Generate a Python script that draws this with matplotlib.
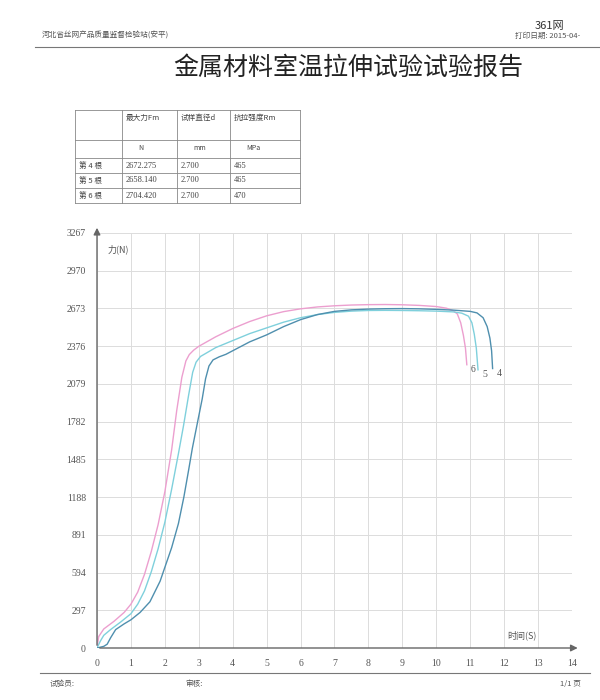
import matplotlib
matplotlib.use("Agg")
import matplotlib.pyplot as plt
from matplotlib.lines import Line2D

plt.rcParams['font.family'] = ['Noto Sans CJK SC', 'DejaVu Sans']

# ---------------- data ----------------
title = "金属材料室温拉伸试验试验报告"
header_left = "河北省丝网产品质量监督检验站(安平)"
header_right = "打印日期: 2015-04-"

table_cols = ["", "最大力Fm", "试样直径d", "抗拉强度Rm"]
table_units = ["", "N", "mm", "MPa"]
table_rows = ["第 4 根", "第 5 根", "第 6 根"]
table_fm = ["2672.275", "2658.140", "2704.420"]
table_d = ["2.700", "2.700", "2.700"]
table_rm = ["465", "465", "470"]

y_ticks = [0, 297, 594, 891, 1188, 1485, 1782, 2079, 2376, 2673, 2970, 3267]
x_ticks = list(range(0, 15))

# specimen 6 (pink)
t6 = [0, 0.05, 0.2, 0.5, 0.8, 1.0, 1.2, 1.4, 1.6, 1.8, 2.0, 2.2, 2.35, 2.5, 2.62, 2.72, 2.85,
      3.0, 3.5, 4.0, 4.5, 5.0, 5.5, 6.0, 6.5, 7.0, 7.5, 8.0, 8.5, 9.0, 9.5, 10.0, 10.3,
      10.5, 10.62, 10.72, 10.8, 10.86, 10.9]
f6 = [0, 90, 150, 210, 280, 345, 440, 580, 760, 970, 1230, 1560, 1870, 2130, 2260, 2310, 2345,
      2375, 2450, 2515, 2570, 2615, 2648, 2670, 2685, 2694, 2700, 2703, 2704, 2702, 2697, 2688, 2675,
      2655, 2630, 2560, 2460, 2360, 2230]
# specimen 5 (light cyan)
t5 = [0, 0.1, 0.2, 0.4, 0.7, 1.0, 1.2, 1.4, 1.6, 1.8, 2.0, 2.2, 2.4, 2.55, 2.7, 2.82, 2.92,
      3.05, 3.5, 4.0, 4.5, 5.0, 5.5, 6.0, 6.5, 7.0, 7.5, 8.0, 8.5, 9.0, 9.5, 10.0, 10.5,
      10.75, 10.95, 11.05, 11.12, 11.18, 11.23]
f5 = [0, 55, 100, 145, 205, 270, 345, 450, 600, 780, 990, 1250, 1530, 1750, 1990, 2170, 2250,
      2295, 2365, 2420, 2475, 2520, 2565, 2600, 2625, 2642, 2652, 2657, 2658, 2657, 2655, 2652, 2646,
      2636, 2612, 2560, 2470, 2360, 2190]
# specimen 4 (steel blue)
t4 = [0, 0.2, 0.3, 0.4, 0.55, 0.8, 1.0, 1.27, 1.56, 1.86, 2.0, 2.2, 2.4, 2.56, 2.7, 2.81,
      2.95, 3.1, 3.2, 3.3, 3.42, 3.6, 3.8, 4.0, 4.5, 5.0, 5.5, 6.0, 6.5, 7.0, 7.5, 8.0, 8.5,
      9.0, 9.5, 10.0, 10.5, 11.0, 11.2, 11.38, 11.5, 11.58, 11.63, 11.66]
f4 = [0, 13, 30, 80, 145, 190, 222, 280, 364, 526, 635, 790, 980, 1188, 1400, 1572,
      1760, 1960, 2120, 2220, 2268, 2292, 2312, 2340, 2410, 2465, 2530, 2585, 2625, 2650, 2662, 2668, 2671,
      2672, 2670, 2666, 2660, 2650, 2638, 2600, 2530, 2440, 2340, 2200]

series = [("6", t6, f6, "#ec9fcf"), ("5", t5, f5, "#7fd0dc"), ("4", t4, f4, "#4f8fae")]

# ---------------- figure ----------------
W, H = 600, 700
fig = plt.figure(figsize=(6, 7), dpi=100)
fig.patch.set_facecolor("white")

def fx(px):
    return px / W

def fy(py):
    return 1 - py / H

# header
fig.text(fx(42), fy(36), header_left, fontsize=5.5, color="#555555", va="center")
fig.text(fx(515), fy(36), header_right, fontsize=5.5, color="#555555", va="center")
fig.text(fx(535), fy(26), "361网", fontsize=8, color="#333333", va="center")
fig.add_artist(Line2D([fx(35), fx(600)], [fy(47), fy(47)], color="#777777", lw=0.8))

# title
fig.text(fx(348), fy(68), title, fontsize=18, color="#222222", ha="center", va="center")

# table
xs = [75, 122, 177, 230, 300]
ys = [110, 140, 158, 173, 188, 203]
tc = "#888888"
for px in xs:
    fig.add_artist(Line2D([fx(px), fx(px)], [fy(ys[0]), fy(ys[-1])], color=tc, lw=0.6))
for py in ys:
    fig.add_artist(Line2D([fx(xs[0]), fx(xs[-1])], [fy(py), fy(py)], color=tc, lw=0.6))
for i, txt in enumerate(table_cols):
    fig.text(fx(xs[i] + 4), fy(118), txt, fontsize=5.5, color="#444444", va="center")
for i, txt in enumerate(table_units):
    fig.text(fx(xs[i] + 4 + (12 if i > 0 else 0)), fy(148), txt, fontsize=5, color="#444444", va="center")
for r in range(3):
    yc = fy((ys[r + 2] + ys[r + 3]) / 2)
    fig.text(fx(xs[0] + 4), yc, table_rows[r], fontsize=5.5, color="#444444", va="center")
    fig.text(fx(xs[1] + 4), yc, table_fm[r], fontsize=6, color="#444444", va="center", family="Liberation Serif")
    fig.text(fx(xs[2] + 4), yc, table_d[r], fontsize=6, color="#444444", va="center", family="Liberation Serif")
    fig.text(fx(xs[3] + 4), yc, table_rm[r], fontsize=6, color="#444444", va="center", family="Liberation Serif")

# chart
ax = fig.add_axes([fx(97), fy(648), fx(572) - fx(97), fy(233) - fy(648)])
ax.set_xlim(0, 14)
ax.set_ylim(0, 3267)
for s in ax.spines.values():
    s.set_visible(False)
ax.set_xticks(x_ticks)
ax.set_yticks(y_ticks)
ax.grid(True, color="#dcdcdc", lw=0.7)
ax.tick_params(length=0, labelsize=7, colors="#555555", pad=8)
for lab in ax.get_xticklabels() + ax.get_yticklabels():
    lab.set_family("Liberation Serif")

for name, t, f, c in series:
    ax.plot(t, f, color=c, lw=1.0)
    ax.text(t[-1] + 0.12, f[-1] - 40, name, fontsize=7, color="#555555",
            va="center", ha="left", family="Liberation Serif")

# axes with arrows
ax.annotate("", xy=(14.25, 0), xytext=(0, 0), annotation_clip=False,
            arrowprops=dict(arrowstyle="-|>", color="#666666", lw=1.0, mutation_scale=10))
ax.annotate("", xy=(0, 3330), xytext=(0, 0), annotation_clip=False,
            arrowprops=dict(arrowstyle="-|>", color="#666666", lw=1.0, mutation_scale=10))
ax.text(0.3, 3140, "力(N)", fontsize=6.5, color="#555555", va="center")
ax.text(12.1, 60, "时间(S)", fontsize=6.5, color="#555555", va="bottom")

# footer
fig.add_artist(Line2D([fx(40), fx(590)], [fy(673), fy(673)], color="#777777", lw=0.8))
fig.text(fx(50), fy(684), "试验员:", fontsize=5.5, color="#555555", va="center")
fig.text(fx(185), fy(684), "审核:", fontsize=5.5, color="#555555", va="center")
fig.text(fx(560), fy(684), "1/1 页", fontsize=5.5, color="#555555", va="center")

fig.savefig("out.png", dpi=100, facecolor="white")
